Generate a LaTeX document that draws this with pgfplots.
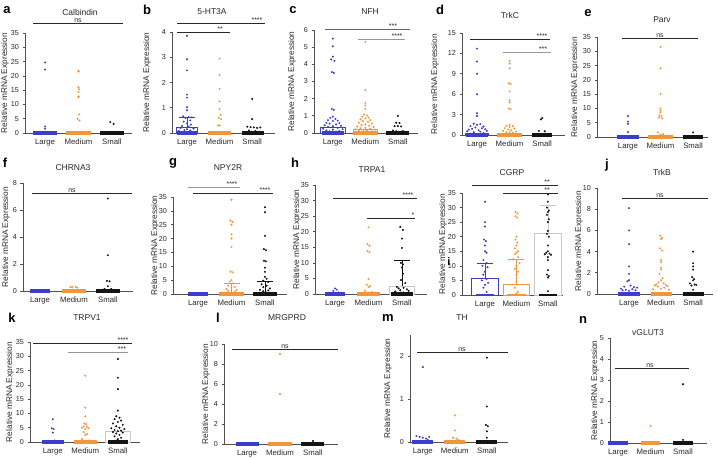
\documentclass[border=0pt]{standalone}
\usepackage{fontspec}
\setmainfont{Liberation Sans}
\usepackage{pgfplots}
\pgfplotsset{compat=1.18}
\definecolor{Lb}{RGB}{60,60,205}
\definecolor{Mo}{RGB}{242,150,60}
\definecolor{Sk}{RGB}{20,20,20}
\definecolor{Sg}{RGB}{200,200,200}
\definecolor{axgray}{RGB}{80,80,80}
\definecolor{txt}{RGB}{40,40,40}
\definecolor{sgray}{RGB}{150,150,150}
\pgfplotsset{
  panel/.style={
    scale only axis, anchor=south west, clip=false, enlargelimits=false,
    axis lines=left, axis line style={-, draw=axgray, line width=0.7pt},
    ymin=0, xtick={0,1,2}, xticklabels={Large,Medium,Small},
    xtick style={draw=none}, ytick style={draw=axgray, line width=0.7pt},
    major tick length=2.5pt, tick align=outside,
    xticklabel style={font=\fontsize{7.8}{9}\selectfont, text=txt},
    yticklabel style={font=\fontsize{7.2}{9}\selectfont, text=txt},
    /pgf/number format/assume math mode=true,
    ylabel={Relative mRNA Expression},
    ylabel style={font=\fontsize{8.3}{9}\selectfont, text=txt},
  },
  yl/.style={ylabel style={at={(axis description cs:-#1,0.5)}, anchor=center}},
  dL/.style={only marks, mark=*, mark size=0.8pt, Lb},
  dM/.style={only marks, mark=*, mark size=0.8pt, Mo},
  dS/.style={only marks, mark=*, mark size=0.8pt, Sk},
}
\newcommand{\zr}[3]{\addplot[#1, line width=3.2pt] coordinates {(#2,0) (#3,0)};}
\newcommand{\bbar}[4]{\addplot[ybar, bar width=#4, bar shift=0pt, draw=#1, fill=white, line width=0.7pt] coordinates {(#2,#3)};}
\newcommand{\ebar}[4]{\addplot[draw=none, mark=none, error bars/.cd, y dir=plus, y explicit,
  error bar style={draw=#1, line width=0.7pt}, error mark options={draw=#1, rotate=90, mark size=8pt, line width=0.7pt}]
  coordinates {(#2,#3) +- (0,#4)};}
\newcommand{\sig}[6]{\draw[#1, line width=0.7pt] (#2,#4) -- (#3,#4);
  \node[anchor=south, inner sep=0.6pt, font=\fontsize{7}{7}\selectfont, text=txt] at (#5,#4) {#6};}
\newcommand{\plab}[3]{\node[font=\fontsize{13}{13}\selectfont\bfseries] at (#1,#2) {#3};}
\newcommand{\ptitle}[3]{\node[font=\fontsize{8.5}{9}\selectfont, text=txt] at (#1,#2) {#3};}
\begin{document}
\begin{tikzpicture}
% a Calbindin
\begin{axis}[panel, yl=0.187, at={(25pt,-133pt)}, width=107pt, height=100pt, xmin=-0.6, xmax=2.6, ymax=35, ytick distance=5]
\zr{Lb}{-0.36}{0.36}\zr{Mo}{0.64}{1.36}\zr{Sk}{1.64}{2.36}
\addplot[dL] coordinates {(0,24.7)(0,22.2)(0,2.3)(0,1.5)};
\addplot[dM] coordinates {(1,21.8)(1,21.5)(1,16)(1.02,15.3)(1,14.4)(1,12.8)(1,12.5)(1.02,6.5)(0.97,5.0)(1.03,4.4)(1.05,0.5)};
\addplot[dS] coordinates {(1.95,3.8)(2.05,3.2)};
\end{axis}
% b 5-HT3A
\begin{axis}[panel, yl=0.243, at={(172pt,-133pt)}, width=103pt, height=101pt, xmin=-0.46, xmax=2.7, ymax=4, ytick distance=1]
\bbar{Lb}{0}{0.22}{0.65}
\ebar{Lb}{0}{0.22}{0.41}
\zr{Lb}{-0.32}{0.32}\zr{Mo}{0.65}{1.35}\zr{Sk}{1.68}{2.35}
\addplot[dL] coordinates {(0,3.85)(0,2.92)(0,2.48)(0,1.52)(0,1.4)(0,1.02)(0,0.9)(-0.12,0.66)(0.05,0.63)(0.15,0.62)(-0.05,0.6)(0.1,0.5)(-0.1,0.45)(0,0.38)(0.12,0.33)(-0.15,0.28)(0.05,0.25)(-0.2,0.2)(0.2,0.18)(0,0.15)(-0.08,0.12)(0.1,0.1)(-0.25,0.08)(0.25,0.05)};
\addplot[dM] coordinates {(1,2.95)(1,2.3)(1,1.75)(1,1.25)(1,0.95)(1.03,0.72)(0.97,0.6)(1.05,0.55)(1,0.3)(0.95,0.3)};
\addplot[dS] coordinates {(2,1.35)(2,0.55)(1.85,0.25)(1.95,0.23)(2.05,0.22)(2.15,0.2)(2.25,0.22)(1.9,0.1)(2.1,0.08)};
\end{axis}
% c NFH
\begin{axis}[panel, yl=0.212, at={(314pt,-133pt)}, width=104pt, height=103pt, xmin=-0.58, xmax=2.62, ymax=6, ytick distance=1]
\bbar{Lb}{0}{0.35}{0.75}
\bbar{Mo}{1}{0.2}{0.75}
\zr{Lb}{-0.34}{0.34}\zr{Mo}{0.62}{1.38}\zr{Sk}{1.65}{2.35}
\addplot[dL] coordinates {(0,5.5)(0,5.05)(0,4.45)(-0.05,4.28)(0.05,4.2)(-0.03,3.55)(0.03,3.5)(-0.03,1.4)(0.03,1.35)(0,0.95)(-0.08,0.88)(0.08,0.82)(-0.15,0.75)(0.15,0.72)(0,0.7)(-0.2,0.6)(0.2,0.58)(-0.1,0.55)(0.1,0.5)(-0.25,0.45)(0.25,0.42)(0,0.4)(-0.15,0.35)(0.15,0.3)(-0.3,0.25)(0.3,0.22)(0,0.2)(-0.2,0.15)(0.2,0.12)(-0.1,0.1)(0.1,0.08)};
\addplot[dM] coordinates {(1,5.3)(1,2.5)(1,1.75)(1,1.6)(1,1.4)(0.95,1.08)(1.05,1.02)(0.9,0.95)(1.1,0.9)(1,0.85)(0.85,0.8)(1.15,0.75)(0.92,0.7)(1.08,0.65)(0.8,0.6)(1.2,0.55)(1,0.5)(0.88,0.45)(1.12,0.42)(0.75,0.38)(1.25,0.35)(1,0.3)(0.85,0.28)(1.15,0.25)(0.7,0.22)(1.3,0.2)(0.95,0.18)(1.05,0.15)(0.8,0.12)(1.2,0.1)};
\addplot[dS] coordinates {(2,1.0)(1.95,0.6)(2.05,0.58)(1.9,0.4)(2.1,0.38)(2,0.4)(1.85,0.15)(2.15,0.12)(1.95,0.1)};
\end{axis}
% d TrkC
\begin{axis}[panel, yl=0.262, at={(462pt,-135pt)}, width=103pt, height=102pt, xmin=-0.46, xmax=2.7, ymax=15, ytick distance=3]
\bbar{Lb}{0}{0.3}{0.7}
\zr{Lb}{-0.35}{0.35}\zr{Mo}{0.62}{1.38}\zr{Sk}{1.7}{2.3}
\addplot[dL] coordinates {(0,12.7)(0,10.8)(0,9.0)(0,6.0)(0,3.2)(0,2.8)(-0.1,1.65)(0.1,1.6)(0,1.5)(-0.2,1.3)(0.2,1.25)(-0.05,1.1)(0.15,1.0)(-0.15,0.9)(0.25,0.85)(-0.25,0.8)(0.05,0.7)(0.3,0.6)(-0.3,0.55)(0.1,0.5)(-0.1,0.4)(0.2,0.3)};
\addplot[dM] coordinates {(1,10.9)(1,10.5)(1,9.8)(0.97,7.6)(1.03,7.5)(1,6.4)(1,5.1)(1,4.8)(0.97,3.9)(1.03,3.8)(1,1.5)(0.9,1.35)(1.1,1.3)(1,1.2)(0.85,1.0)(1.15,0.95)(0.95,0.8)(1.05,0.7)(0.8,0.6)(1.2,0.5)(1,0.45)(0.9,0.4)(1.1,0.35)};
\addplot[dS] coordinates {(2,2.5)(1.96,2.3)(1.9,0.6)(2.08,0.55)};
\end{axis}
% e Parv
\begin{axis}[panel, yl=0.198, at={(597pt,-137pt)}, width=111pt, height=100pt, xmin=-0.95, xmax=2.46, ymax=35, ytick distance=5]
\zr{Lb}{-0.33}{0.33}\zr{Mo}{0.62}{1.38}\zr{Sk}{1.68}{2.32}
\addplot[dL] coordinates {(0,7.3)(0,5.4)(0,4.6)(0,1.7)};
\addplot[dM] coordinates {(1,31.5)(1,24)(1,15)(1,10)(1,9.2)(1,8.6)(0.97,7.5)(1.03,7.3)(0.95,6.8)(1.05,6.5)(0.92,1.6)(1.08,1.0)(1,0.8)};
\addplot[dS] coordinates {(2,1.6)};
\end{axis}
% f CHRNA3
\begin{axis}[panel, yl=0.155, at={(23pt,-291pt)}, width=110pt, height=108pt, xmin=-0.5, xmax=2.74, ymax=8, ytick distance=2]
\zr{Lb}{-0.3}{0.3}\zr{Mo}{0.65}{1.35}\zr{Sk}{1.65}{2.35}
\addplot[dM] coordinates {(0.9,0.3)(0.95,0.28)(1.05,0.3)(1.1,0.25)};
\addplot[dS] coordinates {(2,6.85)(2,2.65)(1.97,0.75)(2.05,0.72)(2,0.35)(1.9,0.15)(2.1,0.15)};
\end{axis}
% g NPY2R
\begin{axis}[panel, yl=0.158, at={(173pt,-294pt)}, width=114pt, height=97pt, xmin=-0.75, xmax=2.66, ymax=35, ytick distance=5]
\ebar{Mo}{1}{0}{4}
\ebar{Sk}{2}{0}{4.5}
\zr{Lb}{-0.3}{0.3}\zr{Mo}{0.62}{1.38}\zr{Sk}{1.65}{2.35}
\addplot[dM] coordinates {(1,34)(0.97,26.5)(1.03,26)(1,25)(1,21.5)(1,20)(1,17)(0.97,8.1)(1.03,7.8)(1,5)(0.95,4.5)(1.05,3.8)(0.9,3.0)(1.1,2.6)(1,2.2)(0.85,1.8)(1.15,1.5)(0.9,1.1)(1.1,0.9)(1,0.6)(0.8,0.5)(1.2,0.4)};
\addplot[dS] coordinates {(2,31.3)(2,29.5)(2,21)(1.97,16.2)(2.03,15.8)(1.97,12)(2.03,11.8)(2,9.5)(2,8)(2,6.2)(2.05,5.5)(1.95,4.8)(2.1,4.3)(1.9,3.5)(2.05,3.0)(1.95,2.5)(2.15,2.0)(1.85,1.5)(2.1,1.3)(1.95,1.0)(2.05,0.5)};
\end{axis}
% h TRPA1
\begin{axis}[panel, yl=0.161, at={(315pt,-294pt)}, width=112pt, height=109pt, xmin=-0.6, xmax=2.75, ymax=35, ytick distance=5]
\bbar{Sg}{2}{2.45}{0.75}
\ebar{Sk}{2}{2.45}{8.25}
\zr{Lb}{-0.3}{0.3}\zr{Mo}{0.65}{1.35}\zr{Sk}{1.67}{2.33}
\addplot[dL] coordinates {(0,1.8)(0.05,1.4)(-0.05,1.0)(0.1,0.5)};
\addplot[dM] coordinates {(1,21.4)(0.97,16)(1.03,15.5)(0.97,13.8)(1.03,13.5)(1,4.8)(0.95,3)(1.05,2.5)(1,2.2)(0.9,1)(1.1,0.6)(1,0.4)};
\addplot[dS] coordinates {(1.95,21.5)(2.03,20.6)(2,17.8)(2,14.8)(1.97,10)(2.03,9.5)(2,8.5)(2.03,6.5)(1.97,4.5)(2.1,3.5)(1.85,2.3)(2.05,2.0)(1.9,1.8)(2.15,1.5)(1.95,1.2)(2.2,1.0)(1.8,0.8)(2.05,0.5)(1.9,0.3)};
\end{axis}
% i CGRP
\begin{axis}[panel, yl=0.188, at={(462pt,-295pt)}, width=101pt, height=102pt, xmin=-0.73, xmax=2.48, ymax=35, ytick distance=5]
\bbar{Lb}{0}{5.6}{0.85}
\bbar{Mo}{1}{3.8}{0.85}
\bbar{Sg}{2}{21.3}{0.85}
\ebar{Lb}{0}{5.6}{5.2}
\ebar{Mo}{1}{3.8}{8.6}
\ebar{Sg}{2}{21.3}{9.5}
\addplot[Lb, line width=2pt] coordinates {(-0.3,0)(0.3,0)};
\addplot[Mo, line width=2pt] coordinates {(0.7,0)(1.3,0)};
\addplot[Sk, line width=1.5pt] coordinates {(1.72,0)(2.28,0)};
\addplot[dL] coordinates {(0,32)(0,25)(0,23.5)(-0.03,19)(0.03,18.5)(0,17)(0,15)(0.05,14.5)(-0.05,12)(0.05,11)(-0.08,10)(0.08,9.5)(0,8)(-0.05,7)(0.05,5.5)(-0.1,5)(0.1,4.2)(0,3.5)(-0.05,2.5)(0.05,1)};
\addplot[dM] coordinates {(0.97,28.5)(1.03,28)(0.97,27)(1.03,26.5)(1,20)(0.97,19)(1.03,18)(1,17)(0.95,16)(1.05,15)(1,14.5)(0.95,14)(1.05,13)(0.9,12.3)(1.1,11)(1,10)(0.95,9)(1.05,8)(1,7)(1,4.5)(0.95,2.5)(1.05,1)(1,0.5)};
\addplot[dS] coordinates {(2,34.5)(2,32)(1.97,30)(2.03,29)(2,28.5)(1.97,27.5)(2.03,26)(2,25)(2,22)(1.97,21)(2.03,20)(2,17)(2,15)(1.95,14.5)(2.05,14.2)(1.9,14)(2.1,13.8)(2,13)(2,12)(2,8.5)(1.97,7)(2.03,6.5)(2,6)(2,1.3)};
\end{axis}
% j TrkB
\begin{axis}[panel, yl=0.155, at={(597pt,-294pt)}, width=116pt, height=106pt, xmin=-1.0, xmax=2.62, ymax=10, ytick distance=2]
\zr{Lb}{-0.33}{0.33}\zr{Mo}{0.67}{1.33}\zr{Sk}{1.67}{2.33}
\addplot[dL] coordinates {(0,8.1)(0,6)(0,4.7)(0,2.6)(0,1.9)(0,1.3)(-0.05,1.2)(0.05,0.8)(-0.15,0.7)(0.15,0.65)(0.25,0.6)(-0.25,0.5)(0.1,0.45)(-0.1,0.4)(0.2,0.35)(-0.2,0.35)(0,0.3)};
\addplot[dM] coordinates {(0.97,5.5)(1.03,5.3)(1,5.2)(0.97,4.3)(1.03,4.1)(1,3.2)(1,3.0)(1,2.5)(1,2.3)(0.95,1.9)(1.05,1.5)(1,1.3)(0.92,1.1)(1.08,1.0)(0.85,0.9)(1.15,0.85)(0.8,0.8)(1.2,0.75)(0.9,0.7)(1.1,0.6)(1,0.5)(0.75,0.45)(1.25,0.4)};
\addplot[dS] coordinates {(2,4)(2,2.9)(2,2.6)(2,2.3)(1.97,1.6)(2.03,1.4)(2,1.3)(1.9,1.0)(2.05,0.9)(2.1,0.85)(1.95,0.8)(2,0.4)};
\end{axis}
% k TRPV1
\begin{axis}[panel, yl=0.182, at={(30pt,-442pt)}, width=110pt, height=100pt, xmin=-0.7, xmax=2.68, ymax=35, ytick distance=5]
\bbar{Sg}{2}{3.6}{0.75}
\zr{Lb}{-0.33}{0.33}\zr{Mo}{0.65}{1.35}\zr{Sk}{1.7}{2.3}
\addplot[dL] coordinates {(0,8)(-0.03,4.8)(0.03,4.5)(0,3.3)(0.05,0.5)};
\addplot[dM] coordinates {(1,23.2)(1,12)(1,9)(0.97,6.5)(1.03,6.2)(0.95,5.5)(1.05,5.3)(0.9,5)(1.1,4.8)(1,4.5)(0.95,3.5)(1.05,2.8)(1,2.5)(0.9,1)(1.1,0.5)(1,0.3)};
\addplot[dS] coordinates {(2,29)(2,22.5)(2,18.5)(2,11)(1.95,9)(2.05,8.5)(1.9,8)(2.1,7.5)(2,7)(1.85,6.5)(2.15,6)(1.95,5.5)(2.05,5)(1.8,4.8)(2.2,4.5)(1.9,4.2)(2.1,4)(2,3.8)(1.85,3.5)(2.15,3.3)(1.95,3)(2.05,2.5)(1.9,2)(2.1,1.5)(2,1)(1.95,0.5)};
\end{axis}
% l MRGPRD
\begin{axis}[panel, yl=0.158, at={(224pt,-444pt)}, width=114pt, height=100pt, xmin=-0.7, xmax=2.76, ymax=10, ytick distance=2]
\zr{Lb}{-0.35}{0.35}\zr{Mo}{0.65}{1.35}\zr{Sk}{1.65}{2.35}
\addplot[dM] coordinates {(1,9)(1,5)};
\addplot[dS] coordinates {(2,0.3)};
\end{axis}
% m TH
\begin{axis}[panel, yl=0.224, at={(410pt,-442pt)}, width=98pt, height=107pt, xmin=-0.4, xmax=2.66, ymax=2.5, ytick={0,1,2}]
\zr{Lb}{-0.33}{0.33}\zr{Mo}{0.67}{1.33}\zr{Sk}{1.67}{2.33}
\addplot[dL] coordinates {(0,1.75)(-0.2,0.14)(-0.1,0.12)(0,0.1)(0.1,0.08)(0.2,0.12)(0.15,0.05)};
\addplot[dM] coordinates {(1,0.62)(1,0.27)(0.95,0.1)(1.05,0.08)(1.1,0.05)};
\addplot[dS] coordinates {(2,1.97)(2,0.83)(1.97,0.4)(2.03,0.37)(2,0.25)(2,0.1)};
\end{axis}
% n vGLUT3
\begin{axis}[panel, yl=0.155, at={(610pt,-443pt)}, width=97pt, height=105pt, xmin=-0.25, xmax=2.74, ymax=5, ytick distance=1]
\zr{Lb}{-0.3}{0.3}\zr{Mo}{0.7}{1.3}\zr{Sk}{1.7}{2.3}
\addplot[dM] coordinates {(1,0.82)};
\addplot[dS] coordinates {(2,2.8)(2,0.15)};
\end{axis}
\begin{scope}[x=1pt, y=-1pt]
\plab{7}{10}{a}\plab{147}{10}{b}\plab{293}{10}{c}\plab{440}{10}{d}\plab{588}{13}{e}
\plab{5}{163}{f}\plab{173}{163}{g}\plab{295}{163}{h}\plab{607}{165}{j}
\plab{12}{318}{k}\plab{218}{318}{l}\plab{388}{318}{m}\plab{583}{320}{n}
\node[font=\fontsize{11}{11}\selectfont\bfseries] at (449,262) {i};
\ptitle{80}{12}{Calbindin}\ptitle{212}{12}{5-HT3A}\ptitle{370}{12}{NFH}\ptitle{510}{15}{TrkC}\ptitle{662}{20}{Parv}
\ptitle{73}{168}{CHRNA3}\ptitle{228}{168}{NPY2R}\ptitle{372}{170}{TRPA1}\ptitle{512}{173}{CGRP}\ptitle{662}{172}{TrkB}
\ptitle{87}{318}{TRPV1}\ptitle{287}{318}{MRGPRD}\ptitle{462}{318}{TH}\ptitle{648}{333}{vGLUT3}
\sig{txt}{33}{123}{23}{78}{ns}
\sig{txt}{177}{265}{23}{257}{****}
\sig{txt}{177}{230}{32}{220}{**}
\sig{black!60}{325}{410}{29}{393}{***}
\sig{sgray}{358}{405}{39}{397}{****}
\sig{txt}{470}{550}{39}{542}{****}
\sig{sgray}{503}{551}{52}{543}{***}
\sig{txt}{622}{698}{38}{660}{ns}
\sig{txt}{32}{132}{193}{72}{ns}
\sig{sgray}{188}{240}{187}{232}{****}
\sig{txt}{193}{273}{193}{265}{****}
\sig{txt}{333}{417}{198}{408}{****}
\sig{txt}{367}{415}{218}{413}{*}
\sig{txt}{472}{558}{185}{547}{**}
\sig{txt}{503}{558}{193}{547}{**}
\sig{txt}{622}{708}{198}{660}{ns}
\sig{txt}{33}{132}{343}{123}{****}
\sig{sgray}{68}{128}{352}{122}{***}
\sig{txt}{232}{338}{349}{285}{ns}
\sig{txt}{417}{508}{352}{462}{ns}
\sig{txt}{615}{689}{368}{650}{ns}
\end{scope}
\pgfresetboundingbox
\path[use as bounding box] (0pt,0pt) rectangle (718pt,-458pt);
\end{tikzpicture}
\end{document}
